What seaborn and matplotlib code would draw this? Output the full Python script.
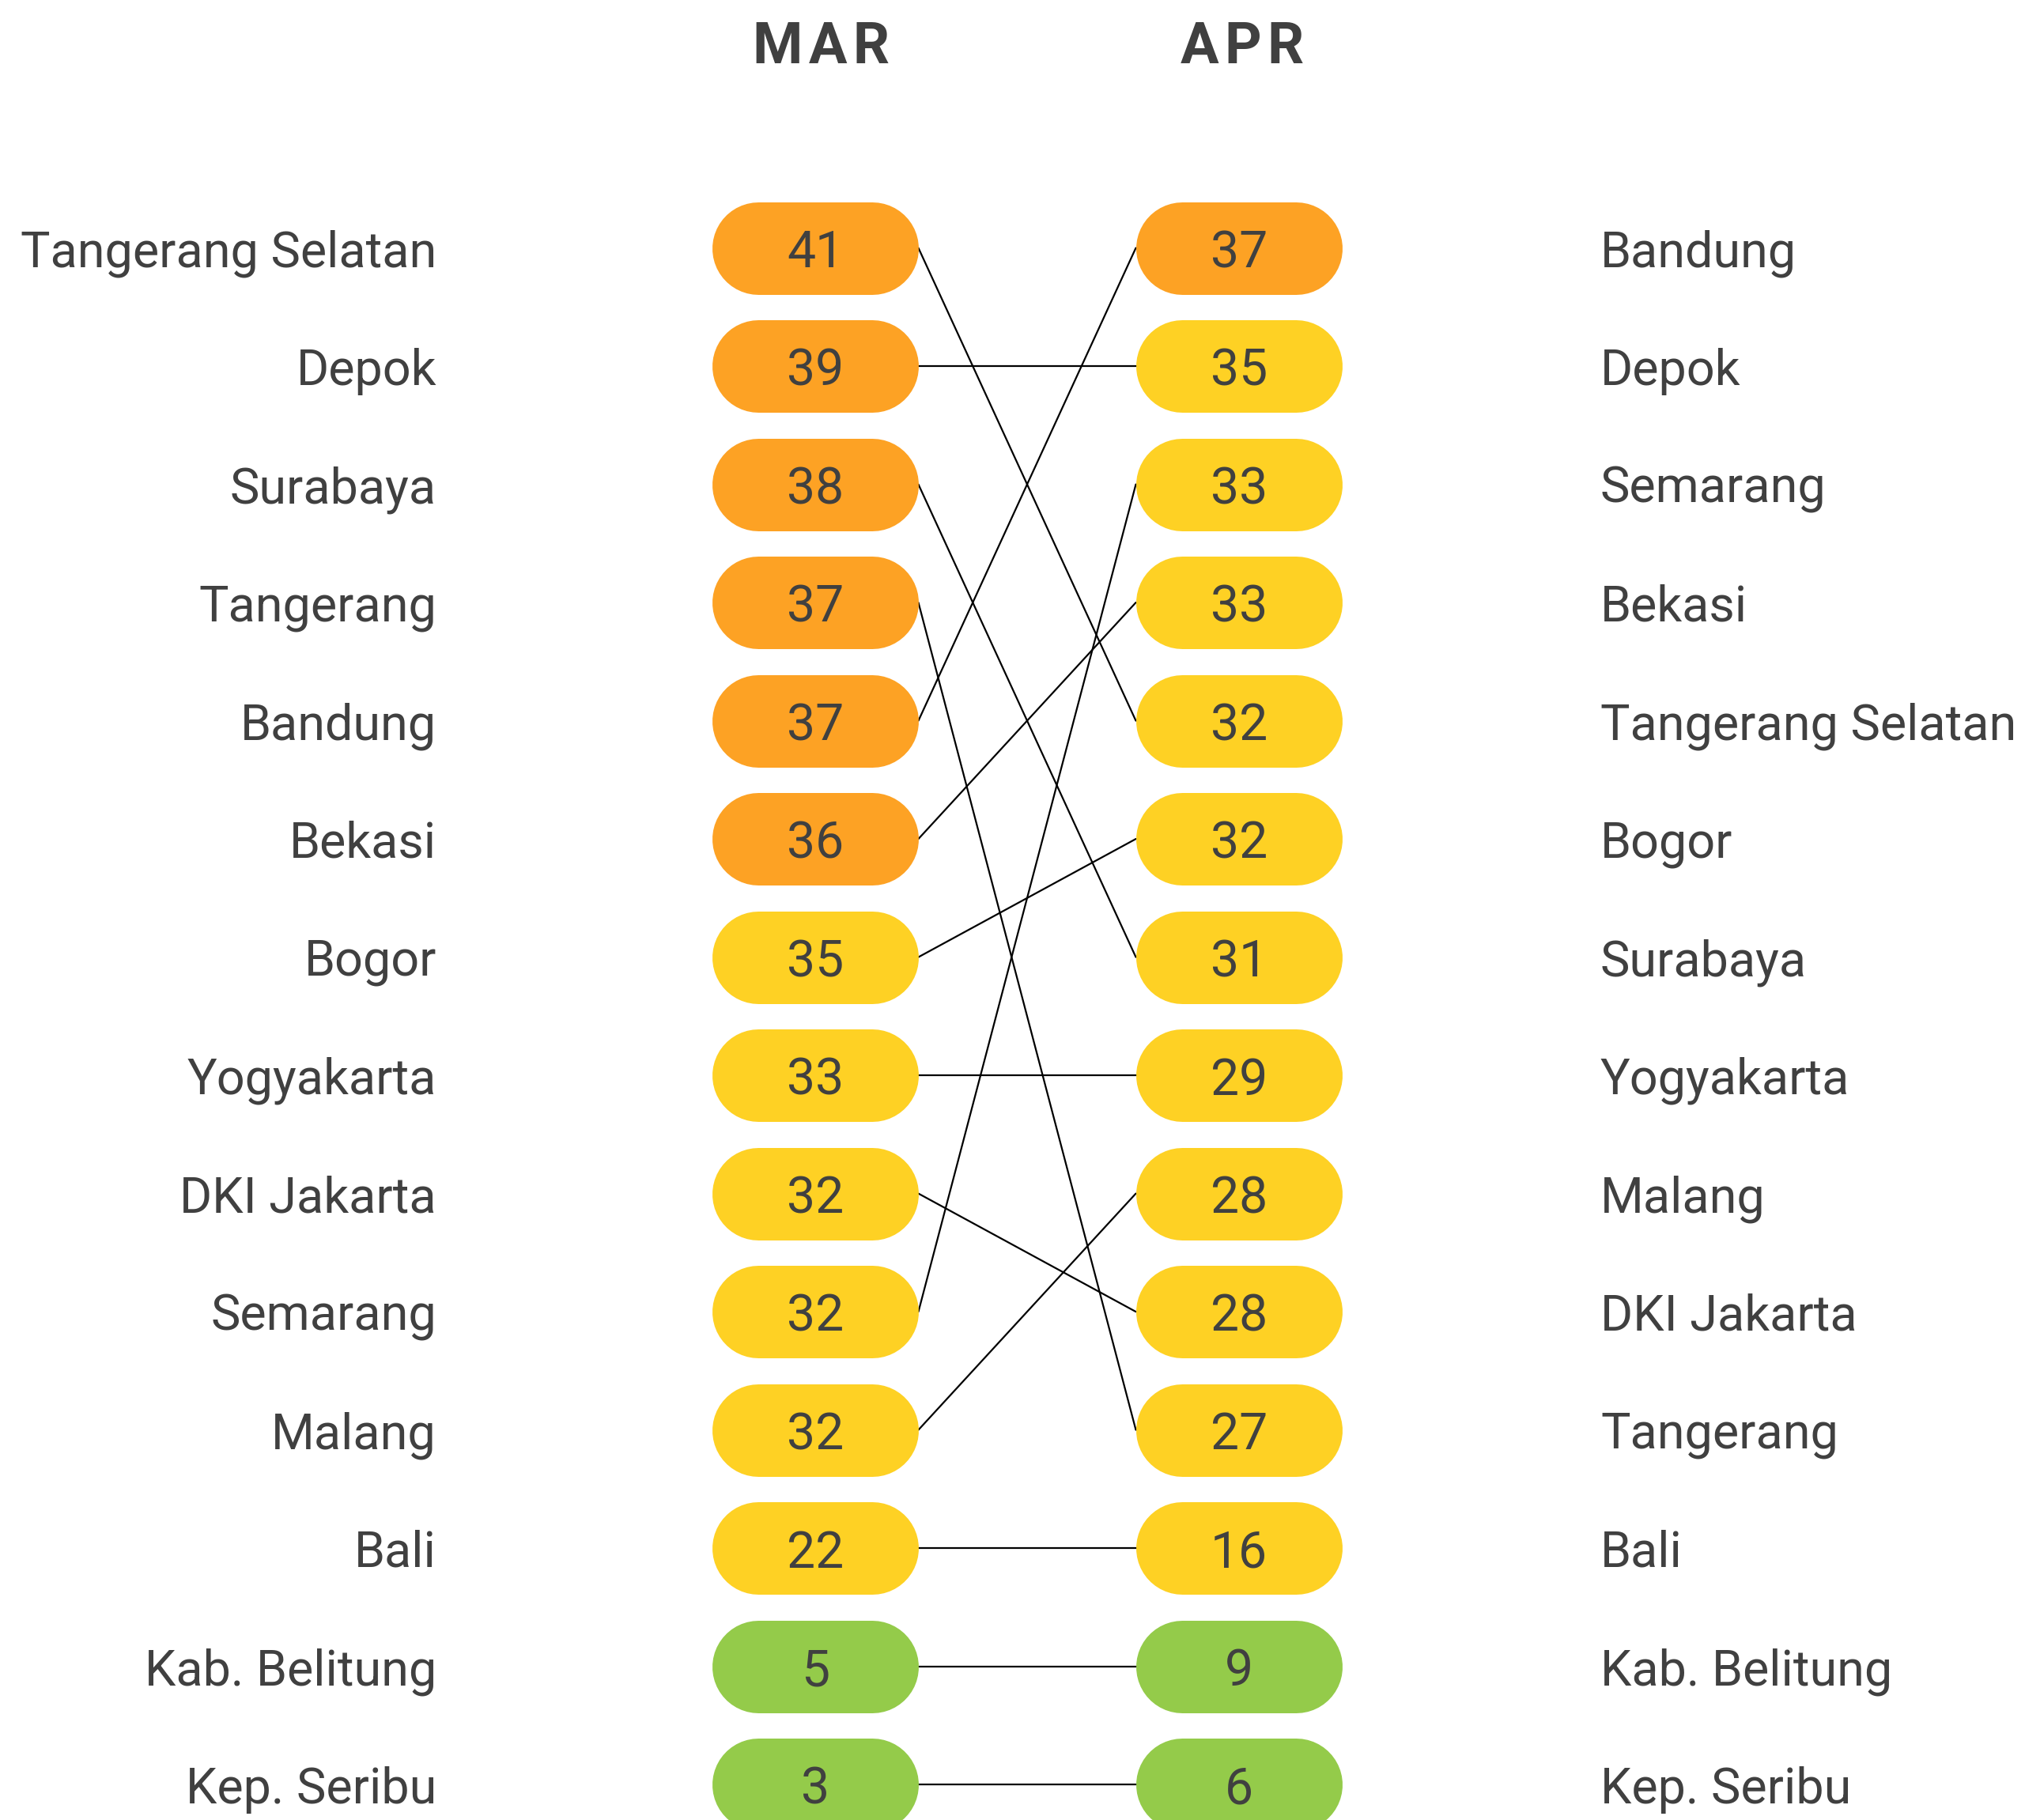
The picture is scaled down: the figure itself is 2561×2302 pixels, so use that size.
import matplotlib
matplotlib.use("Agg")
import matplotlib.pyplot as plt
import seaborn as sns
import pandas as pd
import numpy as np

# ---- data ----
mar_cities = ["Tangerang Selatan", "Depok", "Surabaya", "Tangerang", "Bandung", "Bekasi",
              "Bogor", "Yogyakarta", "DKI Jakarta", "Semarang", "Malang", "Bali",
              "Kab. Belitung", "Kep. Seribu"]
mar_values = [41, 39, 38, 37, 37, 36, 35, 33, 32, 32, 32, 22, 5, 3]
apr_cities = ["Bandung", "Depok", "Semarang", "Bekasi", "Tangerang Selatan", "Bogor",
              "Surabaya", "Yogyakarta", "Malang", "DKI Jakarta", "Tangerang", "Bali",
              "Kab. Belitung", "Kep. Seribu"]
apr_values = [37, 35, 33, 33, 32, 32, 31, 29, 28, 28, 27, 16, 9, 6]
periods = ["MAR", "APR"]

level_bins = [-1, 9.5, 35.5, 100]
level_colors = ["#94CB4A", "#FED124", "#FDA224"]

sns.set_theme(style="white")
plt.rcParams["font.family"] = ["Roboto", "DejaVu Sans"]
TEXT = "#404040"

W, H, DPI = 2561, 2302, 100
fig = plt.figure(figsize=(W / DPI, H / DPI), dpi=DPI)
ax = fig.add_axes([0, 0, 1, 1])

# pixel geometry -> data scale
x0_px, x1_px = 1031, 1567
y0_px, dy_px = 313.6, 149.5
ux = x1_px - x0_px

pill_h_px = 117
pill_w_px = 261
half_edge = (pill_w_px / 2) / ux
half_core = ((pill_w_px - pill_h_px) / 2) / ux

mar_df = pd.DataFrame({"city": mar_cities, "value": mar_values, "col": 0})
mar_df["rank"] = np.arange(len(mar_df))
apr_df = pd.DataFrame({"city": apr_cities, "value": apr_values, "col": 1})
apr_df["rank"] = np.arange(len(apr_df))

# connecting lines
lines = pd.concat([
    mar_df.assign(x=mar_df["col"] + half_edge),
    apr_df.assign(x=apr_df["col"] - half_edge),
])
sns.lineplot(data=lines, x="x", y="rank", units="city", estimator=None, sort=False,
             color="black", linewidth=1.6, ax=ax, zorder=1, legend=False)
ax.set_xlim(-x0_px / ux, (W - x0_px) / ux)
ax.set_ylim((H - y0_px) / dy_px, -y0_px / dy_px)
ax.axis("off")

FS = 45.3
lw_pt = pill_h_px * 72 / DPI
for df in (mar_df, apr_df):
    cats = pd.cut(df["value"], bins=level_bins, labels=False)
    cols = [level_colors[c] for c in cats]
    ax.hlines(y=df["rank"], xmin=df["col"] - half_core, xmax=df["col"] + half_core,
              colors=cols, linewidth=lw_pt, capstyle="round", zorder=2)
    for _, r in df.iterrows():
        ax.text(r["col"], r["rank"], str(r["value"]), ha="center", va="center_baseline",
                fontsize=FS + 1, color=TEXT, zorder=3)

label_off_left = (552 - x0_px) / ux
label_off_right = 1 + (2024 - x1_px) / ux
for _, r in mar_df.iterrows():
    ax.text(label_off_left, r["rank"], r["city"], ha="right", va="center_baseline",
            fontsize=FS, color=TEXT)
for _, r in apr_df.iterrows():
    ax.text(label_off_right, r["rank"], r["city"], ha="left", va="center_baseline",
            fontsize=FS, color=TEXT)

title_y = (60 - y0_px) / dy_px
title_shift = [8 / ux, 4 / ux]
for i, p in enumerate(periods):
    ax.text(i + title_shift[i], title_y, "\u200a".join(p), ha="center", va="center",
            fontsize=52, fontweight="bold", color=TEXT)

fig.savefig("out.png", dpi=DPI)
